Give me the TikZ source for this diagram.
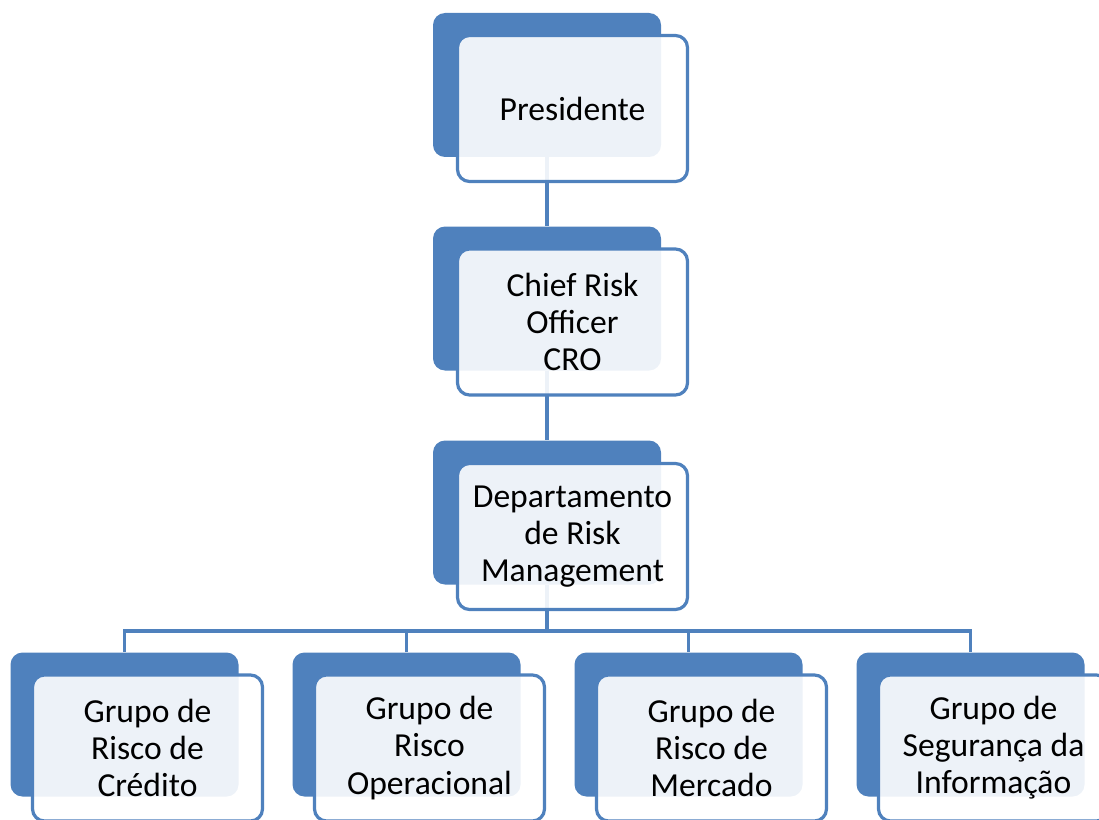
\documentclass[tikz,border=0pt]{standalone}
\usepackage{fontspec}
\setmainfont{Carlito}
\definecolor{accent}{HTML}{4F81BD}
\begin{document}
\begin{tikzpicture}[x=0.75pt,y=-0.75pt,
 back/.style={fill=accent, draw=none, rounded corners=9pt, minimum width=171pt, minimum height=108pt, inner sep=0pt},
 front/.style={fill=white, fill opacity=0.9, text opacity=1, draw=accent, draw opacity=1, line width=2.4pt, rounded corners=9pt, minimum width=172.5pt, minimum height=109.5pt, inner sep=0pt, align=center, font=\fontsize{25.2}{27.8}\selectfont},
 link/.style={draw=accent, line width=2.5pt}]
\useasboundingbox (0,0) rectangle (1099,820);
% back boxes
\node[back] (b1) at (547,85) {};
\node[back] (b2) at (547,298.5) {};
\node[back] (b3) at (547,512.5) {};
\node[back] (c1) at (124.5,724.5) {};
\node[back] (c2) at (406.5,724.5) {};
\node[back] (c3) at (688.5,724.5) {};
\node[back] (c4) at (970.5,724.5) {};
% connectors
\coordinate (bus) at (547,631);
\draw[link] (b1.south) -- (b2.north);
\draw[link] (b2.south) -- (b3.north);
\draw[link] (b3.south) -- (bus);
\draw[link] (c1.north) -- (c1.north |- bus) -- (c4.north |- bus) -- (c4.north);
\draw[link] (c2.north) -- (c2.north |- bus);
\draw[link] (c3.north) -- (c3.north |- bus);
% front boxes
\node[front] (f1) at (572.5,108.5) {Presidente};
\node[front] (f2) at (572.5,322) {Chief Risk\\Officer\\CRO};
\node[front] (f3) at (572.5,536.5) {Departamento\\de Risk\\Management};
\node[front] (g1) at (147.5,748) {Grupo de\\Risco de\\Crédito};
\node[front] (g2) at (429.5,748) {Grupo de\\Risco\\Operacional};
\node[front] (g3) at (711.5,748) {Grupo de\\Risco de\\Mercado};
\node[front] (g4) at (993.5,748) {Grupo de\\Segurança da\\Informação};
\end{tikzpicture}
\end{document}
